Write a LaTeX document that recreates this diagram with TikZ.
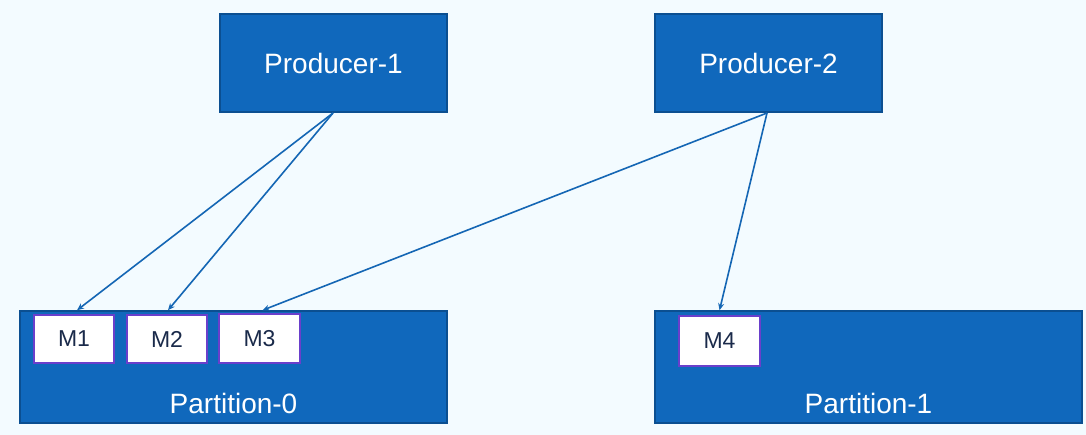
\documentclass[tikz,border=0pt]{standalone}
\usepackage{fontspec}
\setmainfont{Liberation Sans}
\usetikzlibrary{arrows.meta}
\definecolor{bg}{HTML}{F3FBFF}
\definecolor{boxfill}{HTML}{1068BC}
\definecolor{boxedge}{HTML}{0B4F91}
\definecolor{medge}{HTML}{6A3FCB}
\definecolor{mtext}{HTML}{1A2A4A}
\definecolor{arrowc}{HTML}{1466B4}
\tikzset{
  bigbox/.style={draw=boxedge, fill=boxfill, line width=1.5pt, inner sep=0pt},
  msg/.style={draw=medge, fill=white, line width=1.5pt, inner sep=0pt, text=mtext, font=\fontsize{23}{27}\selectfont},
  bigtext/.style={text=white, font=\fontsize{28}{33}\selectfont, inner sep=0pt},
  conn/.style={draw=arrowc, line width=1.6pt, -{Stealth[length=7pt,width=6pt]}}
}
\begin{document}
\begin{tikzpicture}[x=1pt,y=-1pt]
\fill[bg] (0,0) rectangle (1086,435);
\useasboundingbox (0,0) rectangle (1086,435);
% producers
\node[bigbox, minimum width=227pt, minimum height=98pt] (p1) at (333.5,63) {};
\node[bigtext] at (p1.center) {Producer-1};
\node[bigbox, minimum width=227pt, minimum height=98pt] (p2) at (768.5,63) {};
\node[bigtext] at (p2.center) {Producer-2};
% partitions
\node[bigbox, minimum width=427pt, minimum height=112pt] (pt0) at (233.5,367) {};
\node[bigtext] (pt0t) at (233.5,403) {Partition-0};
\node[bigbox, minimum width=427pt, minimum height=112pt] (pt1) at (868.5,367) {};
\node[bigtext] (pt1t) at (868.5,403) {Partition-1};
% messages
\node[msg, minimum width=80pt, minimum height=48pt] (m1) at (74,339) {M1};
\node[msg, minimum width=80pt, minimum height=48pt] (m2) at (167,339) {M2};
\node[msg, minimum width=81pt, minimum height=49pt] (m3) at (259.5,338.5) {M3};
\node[msg, minimum width=81pt, minimum height=50pt] (m4) at (719.5,341) {M4};
% connectors
\coordinate (p1b) at (333,113);
\coordinate (p2b) at (767,113);
\draw[conn] (p1b) -- ([xshift=3pt]m1.north |- pt0.north);
\draw[conn] (p1b) -- ([xshift=1pt]m2.north |- pt0.north);
\draw[conn] (p2b) -- ([xshift=3pt]m3.north |- pt0.north);
\draw[conn] (p2b) -- (m4.north |- pt1.north);
\end{tikzpicture}
\end{document}
